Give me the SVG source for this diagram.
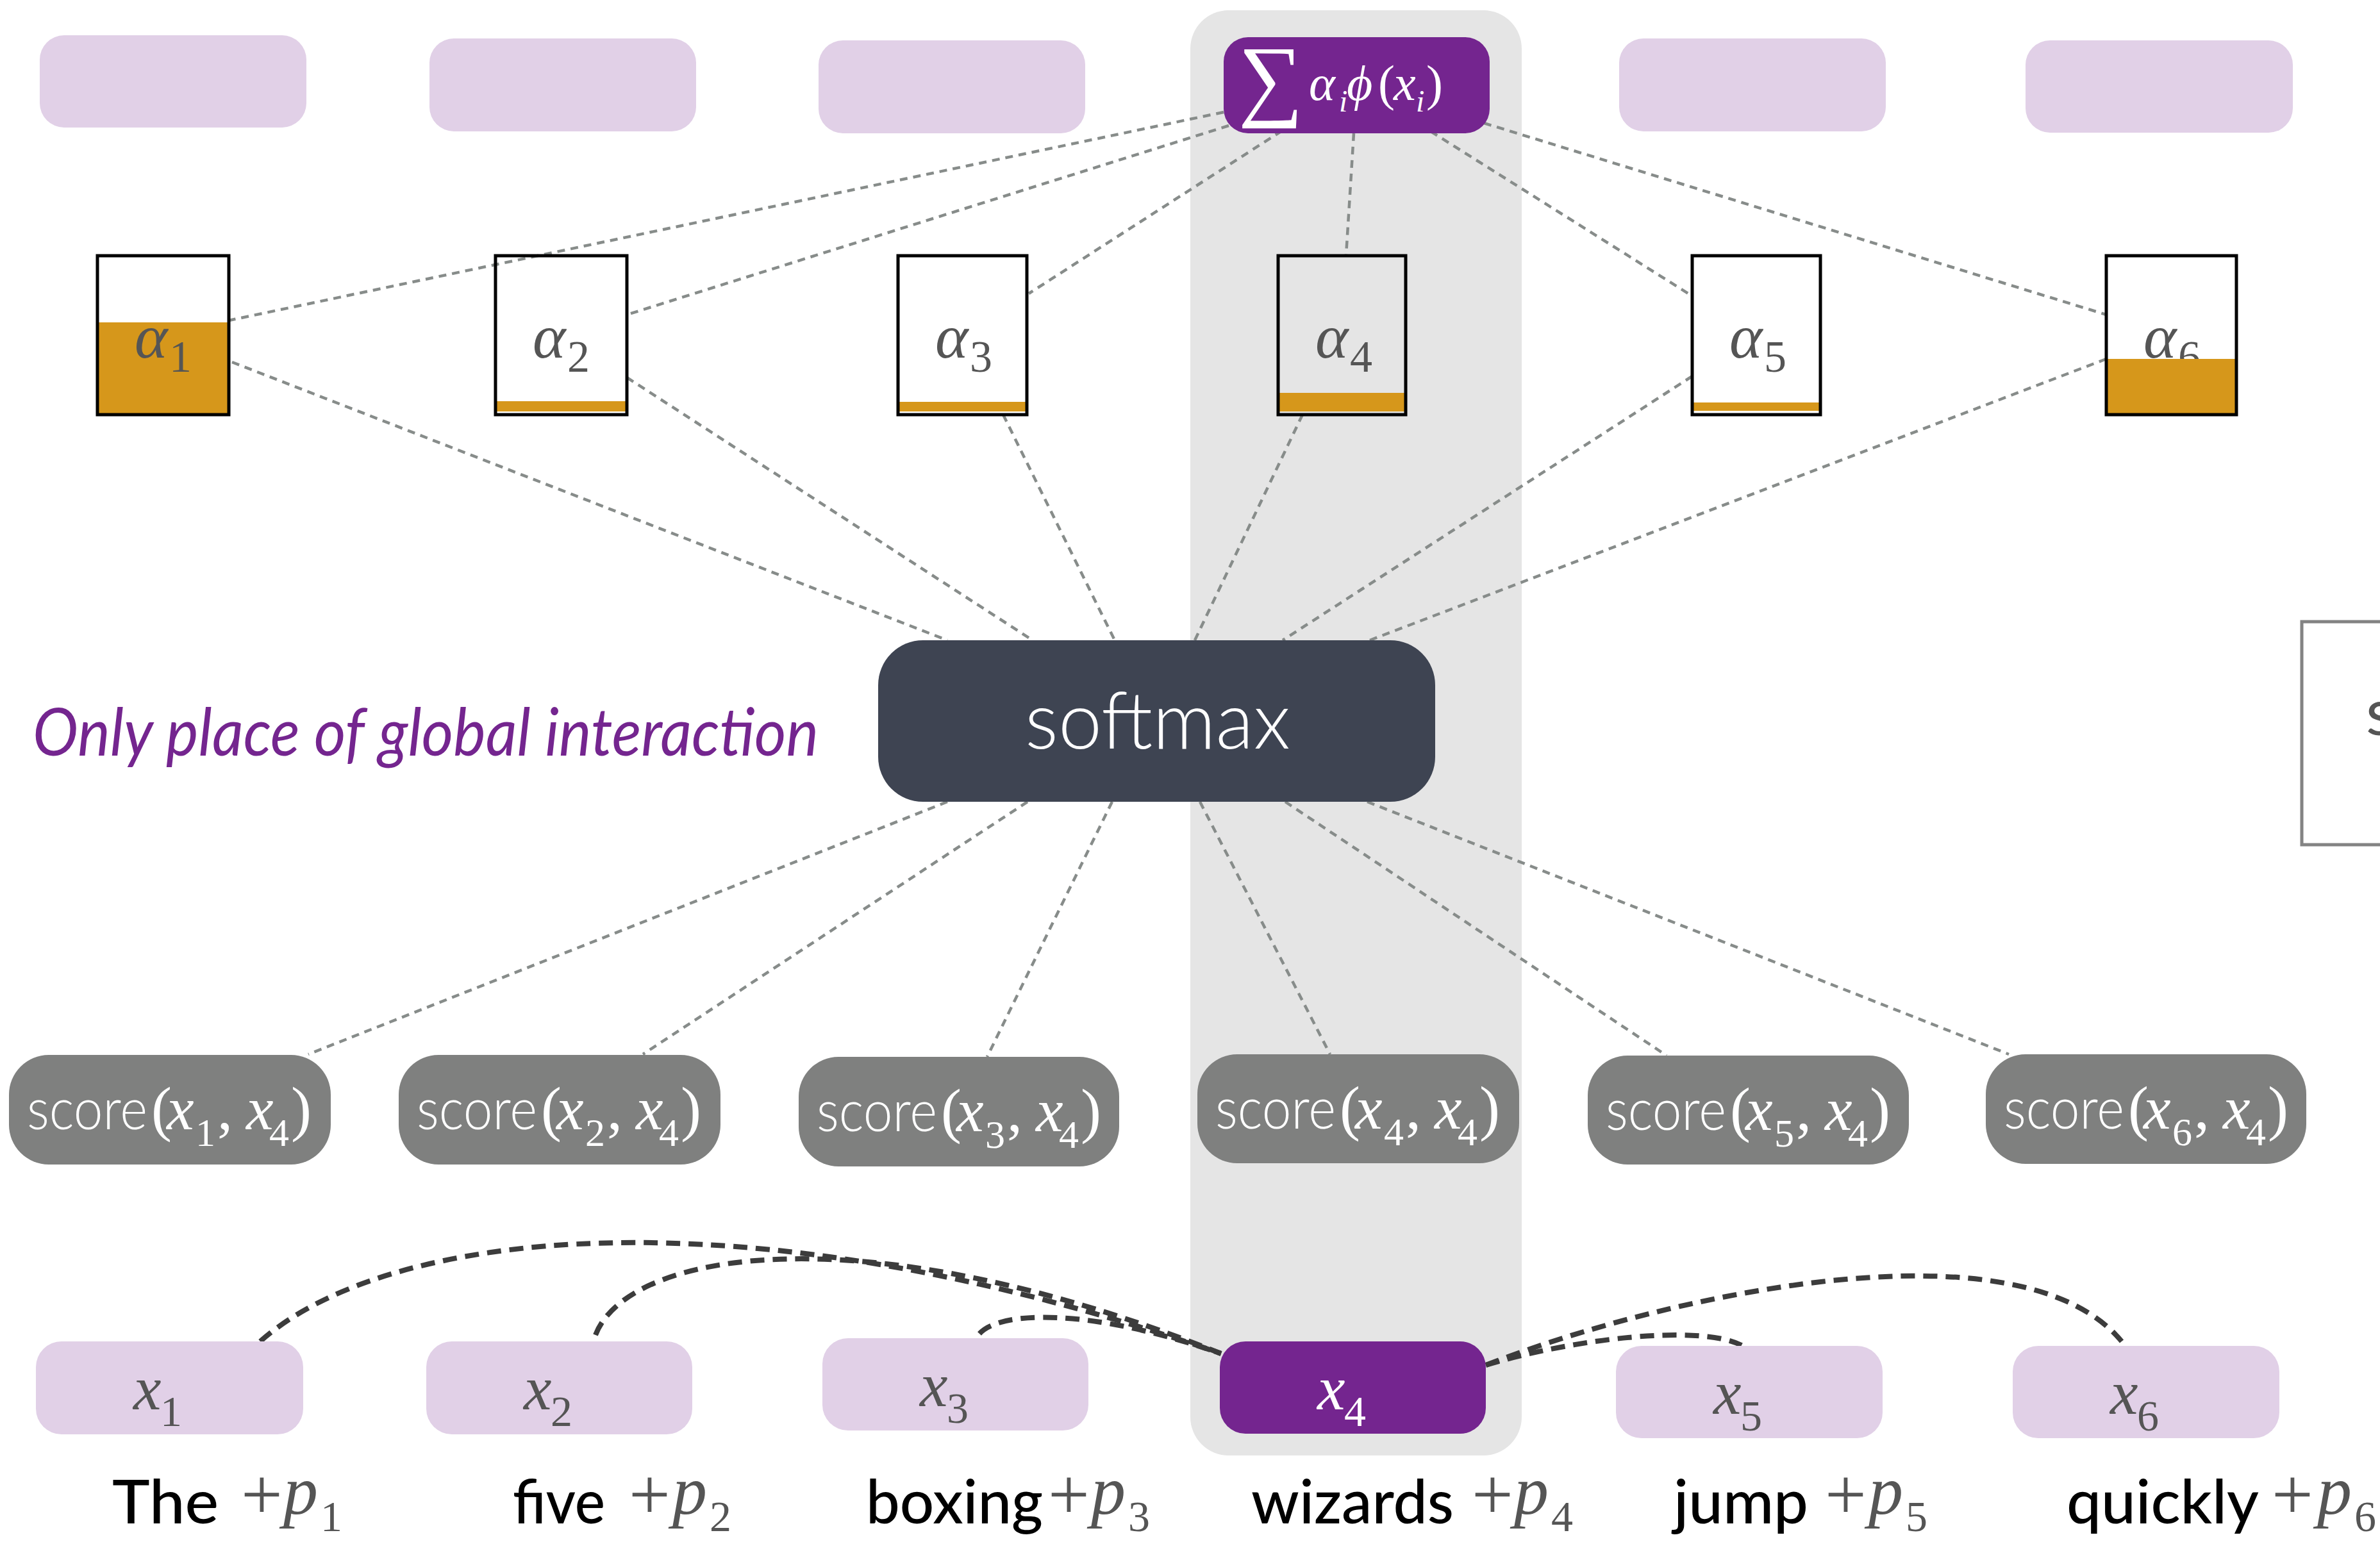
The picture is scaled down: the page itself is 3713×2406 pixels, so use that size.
<svg xmlns="http://www.w3.org/2000/svg" width="3713" height="2406" viewBox="0 0 3713 2406">
  <style>
    .emb { fill: #E1D0E7; }
    .hl { fill: #74258F; }
    .score { fill: #7F807F; }
    .abox { fill: none; stroke: #000; stroke-width: 5; }
    .bar { fill: #D6971B; }
    .link { fill: none; stroke: #878C8A; stroke-width: 4.5; stroke-dasharray: 12 9; }
    .dep { fill: none; stroke: #3C3C3C; stroke-width: 8; stroke-dasharray: 22 13; }
    .sans { font-family: Lato, "Noto Sans", "Liberation Sans", sans-serif; }
    .light { font-weight: 300; }
    .math { font-family: "Liberation Serif", "DejaVu Serif", serif; }
    .it { font-style: italic; }
    .up { font-style: normal; }
    .gray { fill: #555555; }
    .white { fill: #FFFFFF; }
  </style>

  <rect x="0" y="0" width="3713" height="2406" fill="#FFFFFF"/>

  <!-- highlighted column for token 4 -->
  <rect id="column-x4" x="1857" y="16" width="517" height="2255" rx="60" fill="#E5E5E5"/>

  <!-- connectors -->
  <g id="connectors">
    <!-- weighted sum to attention weights -->
    <line class="link" x1="1909" y1="175" x2="357" y2="500"/>
    <line class="link" x1="1917" y1="196" x2="978" y2="491"/>
    <line class="link" x1="2000" y1="204" x2="1605" y2="458"/>
    <line class="link" x1="2112" y1="208" x2="2100" y2="399"/>
    <line class="link" x1="2232" y1="205" x2="2637" y2="460"/>
    <line class="link" x1="2315" y1="192" x2="3286" y2="491"/>
    <!-- attention weights to softmax -->
    <line class="link" x1="362" y1="565" x2="1478" y2="999"/>
    <line class="link" x1="978" y1="589" x2="1611" y2="999"/>
    <line class="link" x1="1565" y1="647" x2="1739" y2="999"/>
    <line class="link" x1="2032" y1="647" x2="1864" y2="999"/>
    <line class="link" x1="2640" y1="587" x2="2001" y2="999"/>
    <line class="link" x1="3286" y1="560" x2="2137" y2="999"/>
    <!-- softmax to scores -->
    <line class="link" x1="1478" y1="1251" x2="481" y2="1645"/>
    <line class="link" x1="1603" y1="1251" x2="1003" y2="1645"/>
    <line class="link" x1="1735" y1="1251" x2="1540" y2="1649"/>
    <line class="link" x1="1872" y1="1251" x2="2075" y2="1645"/>
    <line class="link" x1="2005" y1="1251" x2="2600" y2="1647"/>
    <line class="link" x1="2133" y1="1251" x2="3134" y2="1645"/>
    <!-- token dependencies on x4 -->
    <path class="dep" d="M406,2093 C600,1920 1150,1850 1905,2112"/>
    <path class="dep" d="M929,2083 C980,1950 1350,1890 1905,2112"/>
    <path class="dep" d="M1528,2081 C1560,2045 1700,2040 1905,2112"/>
    <path class="dep" d="M2318,2130 C2450,2090 2650,2065 2717,2099"/>
    <path class="dep" d="M2318,2130 C2600,2020 3150,1900 3310,2093"/>
  </g>

  <!-- output embeddings -->
  <g id="out-1"><rect class="emb" x="62" y="55" width="416" height="144" rx="38"/></g>
  <g id="out-2"><rect class="emb" x="670" y="60" width="416" height="145" rx="38"/></g>
  <g id="out-3"><rect class="emb" x="1277" y="63" width="416" height="145" rx="38"/></g>
  <g id="out-4">
    <rect class="hl" x="1909" y="58" width="415" height="150" rx="38"/>
    <text class="math white" x="1932" y="170" font-size="142">∑</text>
    <text class="math white it" font-size="78" y="156"><tspan x="2042">α</tspan><tspan x="2089" y="174" font-size="48">i</tspan><tspan x="2101" y="156">ϕ</tspan><tspan class="up" x="2150">(</tspan><tspan x="2174">x</tspan><tspan x="2209" y="174" font-size="48">i</tspan><tspan class="up" x="2225" y="156">)</tspan></text>
  </g>
  <g id="out-5"><rect class="emb" x="2526" y="60" width="416" height="145" rx="38"/></g>
  <g id="out-6"><rect class="emb" x="3160" y="63" width="417" height="144" rx="38"/></g>

  <!-- attention weights -->
  <g id="alpha-1" transform="translate(152,399)">
    <rect class="bar" x="0" y="104" width="205" height="144"/>
    <text class="math it gray" x="58" y="159" font-size="98">α<tspan class="up" x="112" y="181" font-size="70">1</tspan></text>
    <rect class="abox" x="0" y="0" width="205" height="248"/>
  </g>
  <g id="alpha-2" transform="translate(773,399)">
    <text class="math it gray" x="58" y="159" font-size="98">α<tspan class="up" x="112" y="181" font-size="70">2</tspan></text>
    <rect class="bar" x="0" y="227" width="205" height="16"/>
    <rect class="abox" x="0" y="0" width="205" height="248"/>
  </g>
  <g id="alpha-3" transform="translate(1401,399)">
    <text class="math it gray" x="58" y="159" font-size="98">α<tspan class="up" x="112" y="181" font-size="70">3</tspan></text>
    <rect class="bar" x="0" y="228" width="201" height="15"/>
    <rect class="abox" x="0" y="0" width="201" height="248"/>
  </g>
  <g id="alpha-4" transform="translate(1994,399)">
    <text class="math it gray" x="58" y="159" font-size="98">α<tspan class="up" x="112" y="181" font-size="70">4</tspan></text>
    <rect class="bar" x="0" y="214" width="199" height="29"/>
    <rect class="abox" x="0" y="0" width="199" height="248"/>
  </g>
  <g id="alpha-5" transform="translate(2640,399)">
    <text class="math it gray" x="58" y="159" font-size="98">α<tspan class="up" x="112" y="181" font-size="70">5</tspan></text>
    <rect class="bar" x="0" y="229" width="200" height="13"/>
    <rect class="abox" x="0" y="0" width="200" height="248"/>
  </g>
  <g id="alpha-6" transform="translate(3286,399)">
    <text class="math it gray" x="58" y="159" font-size="98">α<tspan class="up" x="112" y="181" font-size="70">6</tspan></text>
    <rect class="bar" x="0" y="161" width="203" height="87"/>
    <rect class="abox" x="0" y="0" width="203" height="248"/>
  </g>

  <!-- softmax -->
  <g id="softmax">
    <rect x="1370" y="999" width="869" height="252" rx="70" fill="#3E4452"/>
    <text class="sans light white" x="1599" y="1168" font-size="124" textLength="414" lengthAdjust="spacingAndGlyphs">softmax</text>
  </g>

  <text id="note" class="sans it" x="51" y="1179" font-size="103" fill="#74258F" textLength="1226" lengthAdjust="spacingAndGlyphs">Only place of global interaction</text>

  <!-- box cut by the right edge -->
  <g id="side-box">
    <rect x="3591" y="970" width="200" height="348" fill="#FFFFFF" stroke="#838383" stroke-width="5"/>
    <text class="sans gray" x="3691" y="1147" font-size="100">s</text>
  </g>

  <!-- scores -->
  <g id="score-1" transform="translate(14,1646)">
    <rect class="score" x="0" y="0" width="502" height="171" rx="62"/>
    <text class="white" y="116"><tspan class="sans light" x="28" font-size="90" textLength="188" lengthAdjust="spacingAndGlyphs">score</tspan><tspan class="math" x="222" font-size="96">(</tspan><tspan class="math it" x="246" font-size="96">x</tspan><tspan class="math" x="291" dy="26" font-size="62">1</tspan><tspan class="math" x="325" dy="-26" font-size="96">,</tspan><tspan class="math it" x="370" font-size="96">x</tspan><tspan class="math" x="406" dy="26" font-size="62">4</tspan><tspan class="math" x="440" dy="-26" font-size="96">)</tspan></text>
  </g>
  <g id="score-2" transform="translate(622,1646)">
    <rect class="score" x="0" y="0" width="502" height="171" rx="62"/>
    <text class="white" y="116"><tspan class="sans light" x="28" font-size="90" textLength="188" lengthAdjust="spacingAndGlyphs">score</tspan><tspan class="math" x="222" font-size="96">(</tspan><tspan class="math it" x="246" font-size="96">x</tspan><tspan class="math" x="291" dy="26" font-size="62">2</tspan><tspan class="math" x="325" dy="-26" font-size="96">,</tspan><tspan class="math it" x="370" font-size="96">x</tspan><tspan class="math" x="406" dy="26" font-size="62">4</tspan><tspan class="math" x="440" dy="-26" font-size="96">)</tspan></text>
  </g>
  <g id="score-3" transform="translate(1246,1649)">
    <rect class="score" x="0" y="0" width="500" height="171" rx="62"/>
    <text class="white" y="116"><tspan class="sans light" x="28" font-size="90" textLength="188" lengthAdjust="spacingAndGlyphs">score</tspan><tspan class="math" x="222" font-size="96">(</tspan><tspan class="math it" x="246" font-size="96">x</tspan><tspan class="math" x="291" dy="26" font-size="62">3</tspan><tspan class="math" x="325" dy="-26" font-size="96">,</tspan><tspan class="math it" x="370" font-size="96">x</tspan><tspan class="math" x="406" dy="26" font-size="62">4</tspan><tspan class="math" x="440" dy="-26" font-size="96">)</tspan></text>
  </g>
  <g id="score-4" transform="translate(1868,1645)">
    <rect class="score" x="0" y="0" width="502" height="170" rx="62"/>
    <text class="white" y="116"><tspan class="sans light" x="28" font-size="90" textLength="188" lengthAdjust="spacingAndGlyphs">score</tspan><tspan class="math" x="222" font-size="96">(</tspan><tspan class="math it" x="246" font-size="96">x</tspan><tspan class="math" x="291" dy="26" font-size="62">4</tspan><tspan class="math" x="325" dy="-26" font-size="96">,</tspan><tspan class="math it" x="370" font-size="96">x</tspan><tspan class="math" x="406" dy="26" font-size="62">4</tspan><tspan class="math" x="440" dy="-26" font-size="96">)</tspan></text>
  </g>
  <g id="score-5" transform="translate(2477,1647)">
    <rect class="score" x="0" y="0" width="501" height="170" rx="62"/>
    <text class="white" y="116"><tspan class="sans light" x="28" font-size="90" textLength="188" lengthAdjust="spacingAndGlyphs">score</tspan><tspan class="math" x="222" font-size="96">(</tspan><tspan class="math it" x="246" font-size="96">x</tspan><tspan class="math" x="291" dy="26" font-size="62">5</tspan><tspan class="math" x="325" dy="-26" font-size="96">,</tspan><tspan class="math it" x="370" font-size="96">x</tspan><tspan class="math" x="406" dy="26" font-size="62">4</tspan><tspan class="math" x="440" dy="-26" font-size="96">)</tspan></text>
  </g>
  <g id="score-6" transform="translate(3098,1645)">
    <rect class="score" x="0" y="0" width="500" height="171" rx="62"/>
    <text class="white" y="116"><tspan class="sans light" x="28" font-size="90" textLength="188" lengthAdjust="spacingAndGlyphs">score</tspan><tspan class="math" x="222" font-size="96">(</tspan><tspan class="math it" x="246" font-size="96">x</tspan><tspan class="math" x="291" dy="26" font-size="62">6</tspan><tspan class="math" x="325" dy="-26" font-size="96">,</tspan><tspan class="math it" x="370" font-size="96">x</tspan><tspan class="math" x="406" dy="26" font-size="62">4</tspan><tspan class="math" x="440" dy="-26" font-size="96">)</tspan></text>
  </g>

  <!-- input tokens -->
  <g id="x-1" transform="translate(56,2093)">
    <rect class="emb" x="0" y="0" width="417" height="145" rx="40"/>
    <text class="math it gray" x="152" y="106" font-size="98">x<tspan class="up" x="194" y="132" font-size="68">1</tspan></text>
  </g>
  <g id="x-2" transform="translate(665,2093)">
    <rect class="emb" x="0" y="0" width="415" height="145" rx="40"/>
    <text class="math it gray" x="152" y="106" font-size="98">x<tspan class="up" x="194" y="132" font-size="68">2</tspan></text>
  </g>
  <g id="x-3" transform="translate(1283,2088)">
    <rect class="emb" x="0" y="0" width="415" height="144" rx="40"/>
    <text class="math it gray" x="152" y="106" font-size="98">x<tspan class="up" x="194" y="132" font-size="68">3</tspan></text>
  </g>
  <g id="x-4" transform="translate(1903,2093)">
    <rect class="hl" x="0" y="0" width="415" height="144" rx="40"/>
    <text class="math it white" x="152" y="106" font-size="98">x<tspan class="up" x="194" y="132" font-size="68">4</tspan></text>
  </g>
  <g id="x-5" transform="translate(2521,2100)">
    <rect class="emb" x="0" y="0" width="416" height="144" rx="40"/>
    <text class="math it gray" x="152" y="106" font-size="98">x<tspan class="up" x="194" y="132" font-size="68">5</tspan></text>
  </g>
  <g id="x-6" transform="translate(3140,2100)">
    <rect class="emb" x="0" y="0" width="416" height="144" rx="40"/>
    <text class="math it gray" x="152" y="106" font-size="98">x<tspan class="up" x="194" y="132" font-size="68">6</tspan></text>
  </g>

  <!-- words with positional encodings -->
  <g id="words">
    <text class="sans" x="175" y="2377" font-size="94" font-weight="500" textLength="166" lengthAdjust="spacingAndGlyphs">The</text>
    <text class="sans" x="800" y="2377" font-size="94" font-weight="500" textLength="144" lengthAdjust="spacingAndGlyphs">five</text>
    <text class="sans" x="1351" y="2377" font-size="94" font-weight="500" textLength="276" lengthAdjust="spacingAndGlyphs">boxing</text>
    <text class="sans" x="1952" y="2377" font-size="94" font-weight="500" textLength="316" lengthAdjust="spacingAndGlyphs">wizards</text>
    <text class="sans" x="2611" y="2377" font-size="94" font-weight="500" textLength="210" lengthAdjust="spacingAndGlyphs">jump</text>
    <text class="sans" x="3224" y="2377" font-size="94" font-weight="500" textLength="300" lengthAdjust="spacingAndGlyphs">quickly</text>
  </g>
  <g id="positions" class="math gray">
    <text x="376" y="2370" font-size="115">+<tspan class="it" x="442" y="2362" font-size="108">p</tspan><tspan x="500" y="2389" font-size="68">1</tspan></text>
    <text x="981" y="2370" font-size="115">+<tspan class="it" x="1049" y="2362" font-size="108">p</tspan><tspan x="1107" y="2389" font-size="68">2</tspan></text>
    <text x="1635" y="2370" font-size="115">+<tspan class="it" x="1702" y="2362" font-size="108">p</tspan><tspan x="1760" y="2389" font-size="68">3</tspan></text>
    <text x="2296" y="2370" font-size="115">+<tspan class="it" x="2362" y="2362" font-size="108">p</tspan><tspan x="2420" y="2389" font-size="68">4</tspan></text>
    <text x="2847" y="2370" font-size="115">+<tspan class="it" x="2915" y="2362" font-size="108">p</tspan><tspan x="2973" y="2389" font-size="68">5</tspan></text>
    <text x="3544" y="2370" font-size="115">+<tspan class="it" x="3615" y="2362" font-size="108">p</tspan><tspan x="3673" y="2389" font-size="68">6</tspan></text>
  </g>
</svg>
